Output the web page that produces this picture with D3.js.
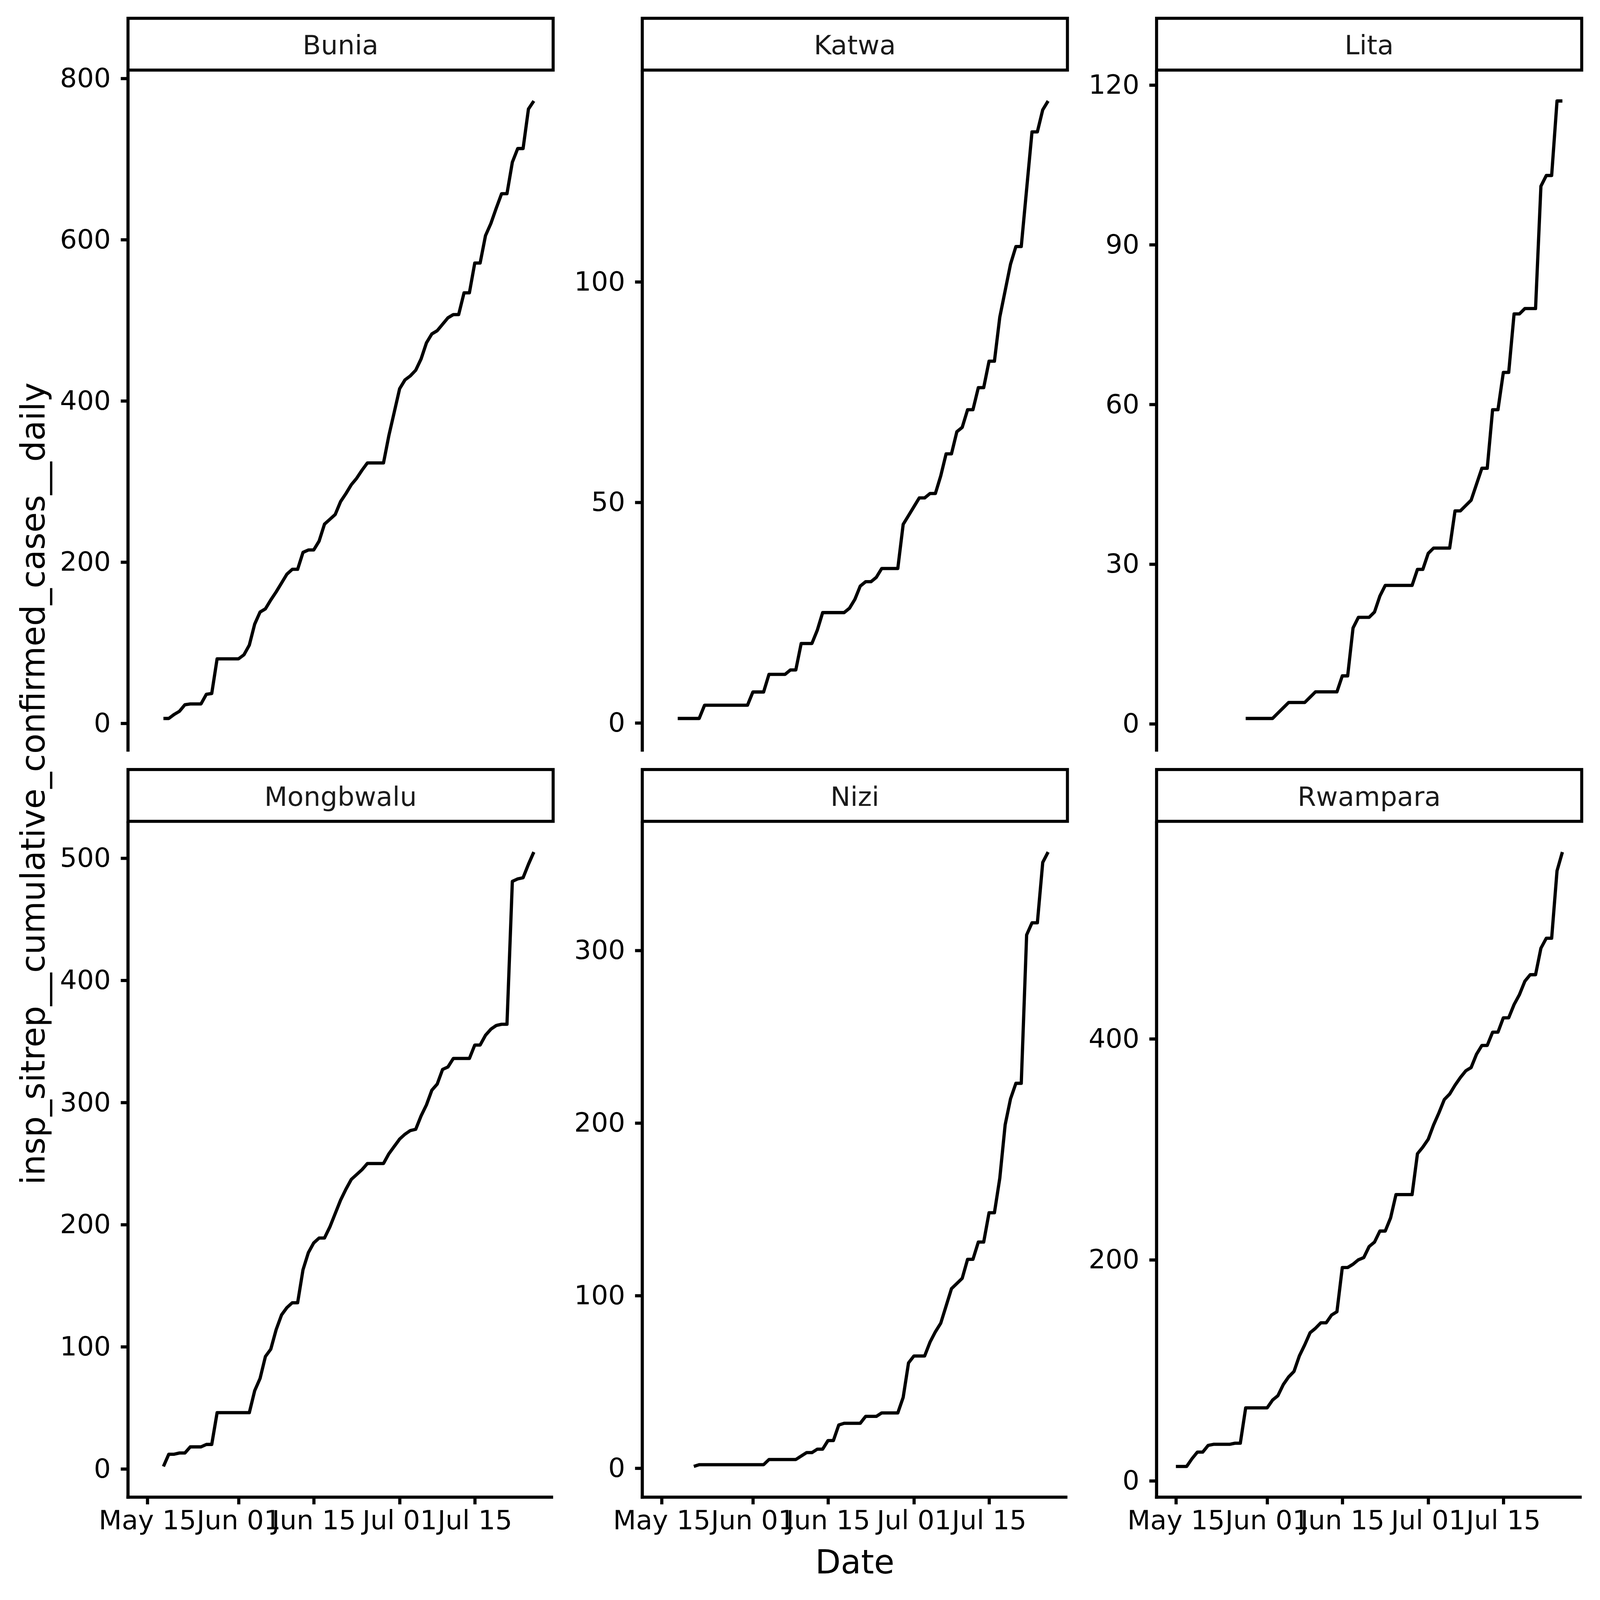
<!DOCTYPE html>
<html>
<head>
<meta charset="utf-8">
<script src="https://cdn.jsdelivr.net/npm/d3@7"></script>
<style>
  html, body { margin: 0; padding: 0; background: #ffffff; width: 100%; height: 100%; overflow: hidden; }
  svg { display: block; width: 100vw; height: 100vh; }
</style>
</head>
<body>
<script>
// ---------------- DATA ----------------
// Daily dates start on this day; each series has one value per day (null = no data)
const startDate = "2019-05-15";
const dayCount = 73;

const districts = ["Bunia", "Katwa", "Lita", "Mongbwalu", "Nizi", "Rwampara"];

const bunia = [
  null, null, null, 6, 6, 11, 15, 23, 24, 24,
  24, 36, 37, 80, 80, 80, 80, 80, 85, 97,
  123, 138, 142, 153, 163, 174, 185, 191, 191, 212,
  215, 215, 226, 247, 253, 259, 275, 285, 296, 304,
  314, 323, 323, 323, 323, 357, 386, 415, 426, 431,
  438, 452, 472, 483, 487, 495, 503, 507, 507, 534,
  534, 571, 571, 605, 620, 639, 657, 657, 696, 713,
  713, 762, 772
];
const katwa = [
  null, null, null, 1, 1, 1, 1, 1, 4, 4,
  4, 4, 4, 4, 4, 4, 4, 7, 7, 7,
  11, 11, 11, 11, 12, 12, 18, 18, 18, 21,
  25, 25, 25, 25, 25, 26, 28, 31, 32, 32,
  33, 35, 35, 35, 35, 45, 47, 49, 51, 51,
  52, 52, 56, 61, 61, 66, 67, 71, 71, 76,
  76, 82, 82, 92, 98, 104, 108, 108, 121, 134,
  134, 139, 141
];
const lita = [
  null, null, null, null, null, null, null, null, null, null,
  null, null, null, 1, 1, 1, 1, 1, 1, 2,
  3, 4, 4, 4, 4, 5, 6, 6, 6, 6,
  6, 9, 9, 18, 20, 20, 20, 21, 24, 26,
  26, 26, 26, 26, 26, 29, 29, 32, 33, 33,
  33, 33, 40, 40, 41, 42, 45, 48, 48, 59,
  59, 66, 66, 77, 77, 78, 78, 78, 101, 103,
  103, 117, 117
];
const mongbwalu = [
  null, null, null, 2, 12, 12, 13, 13, 18, 18,
  18, 20, 20, 46, 46, 46, 46, 46, 46, 46,
  64, 74, 92, 98, 114, 126, 132, 136, 136, 163,
  177, 185, 189, 189, 198, 209, 220, 229, 237, 241,
  245, 250, 250, 250, 250, 258, 264, 270, 274, 277,
  278, 289, 298, 310, 315, 327, 329, 336, 336, 336,
  336, 347, 347, 355, 360, 363, 364, 364, 481, 483,
  484, 495, 505
];
const nizi = [
  null, null, null, null, null, null, 1, 2, 2, 2,
  2, 2, 2, 2, 2, 2, 2, 2, 2, 2,
  5, 5, 5, 5, 5, 5, 7, 9, 9, 11,
  11, 16, 16, 25, 26, 26, 26, 26, 30, 30,
  30, 32, 32, 32, 32, 41, 61, 65, 65, 65,
  73, 79, 84, 94, 104, 107, 110, 121, 121, 131,
  131, 148, 148, 168, 199, 214, 223, 223, 309, 316,
  316, 351, 357
];
const rwampara = [
  13, 13, 13, 20, 26, 26, 32, 33, 33, 33,
  33, 34, 34, 66, 66, 66, 66, 66, 73, 77,
  87, 94, 99, 113, 123, 134, 138, 143, 143, 150,
  153, 193, 193, 196, 200, 202, 212, 216, 226, 226,
  238, 259, 259, 259, 259, 296, 302, 309, 322, 333,
  345, 350, 358, 365, 371, 374, 386, 394, 394, 406,
  406, 419, 419, 431, 440, 452, 458, 458, 482, 491,
  491, 552, 569
];

const seriesValues = [bunia, katwa, lita, mongbwalu, nizi, rwampara];

// y tick values per panel (as shown on the chart)
const yTicks = [
  [0, 200, 400, 600, 800],
  [0, 50, 100],
  [0, 30, 60, 90, 120],
  [0, 100, 200, 300, 400, 500],
  [0, 100, 200, 300],
  [0, 200, 400]
];
// x tick dates and labels
const xTickDates = ["2019-05-15", "2019-06-01", "2019-06-15", "2019-07-01", "2019-07-15"];
const xTickLabels = ["May 15", "Jun 01", "Jun 15", "Jul 01", "Jul 15"];

const xTitle = "Date";
const yTitle = "insp_sitrep__cumulative_confirmed_cases__daily";

// ---------------- LAYOUT ----------------
const W = 4200, H = 4200;
const colLeft = [336, 1686, 3036];
const panelW = 1116;
const stripTop = [48, 2020];
const stripH = 136;
const panelBottom = [1967, 3930];
const FONT = "'DejaVu Sans', 'Liberation Sans', sans-serif";
const tickFont = 70, titleFont = 87;
const lineW = 8.5, axisW = 8.3, stripW = 8, tickLen = 19;

const parse = d3.utcParse("%Y-%m-%d");
const day0 = parse(startDate);
const dates = d3.range(dayCount).map(i => d3.utcDay.offset(day0, i));

// shared x domain: data extent with 5% expansion (ggplot style)
const xExt = d3.extent(dates);
const xSpan = xExt[1] - xExt[0];
const xDomain = [new Date(+xExt[0] - 0.05 * xSpan), new Date(+xExt[1] + 0.05 * xSpan)];

const svg = d3.select("body").append("svg")
  .attr("viewBox", `0 0 ${W} ${H}`)
  .attr("preserveAspectRatio", "none")
  .style("font-family", FONT);

svg.append("rect").attr("width", W).attr("height", H).attr("fill", "#ffffff");

districts.forEach((name, i) => {
  const col = i % 3, row = Math.floor(i / 3);
  const left = colLeft[col], right = left + panelW;
  const sTop = stripTop[row], pTop = sTop + stripH, pBot = panelBottom[row];
  const vals = seriesValues[i];
  const pts = dates.map((d, k) => ({ date: d, v: vals[k] })).filter(p => p.v != null);

  const x = d3.scaleUtc().domain(xDomain).range([left, right]);
  const yExt = d3.extent(pts, p => p.v);
  const ySpan = yExt[1] - yExt[0];
  const y = d3.scaleLinear()
    .domain([yExt[0] - 0.05 * ySpan, yExt[1] + 0.05 * ySpan])
    .range([pBot, pTop]);

  const g = svg.append("g");

  // strip
  g.append("rect")
    .attr("x", left).attr("y", sTop)
    .attr("width", panelW).attr("height", stripH)
    .attr("fill", "#ffffff").attr("stroke", "#000000").attr("stroke-width", stripW);
  g.append("text")
    .attr("x", (left + right) / 2).attr("y", sTop + 95)
    .attr("text-anchor", "middle")
    .attr("font-size", tickFont).attr("fill", "#1a1a1a")
    .text(name);

  // line
  const line = d3.line()
    .x(p => x(p.date)).y(p => y(p.v));
  g.append("path")
    .datum(pts)
    .attr("d", line)
    .attr("fill", "none").attr("stroke", "#000000")
    .attr("stroke-width", lineW).attr("stroke-linejoin", "round").attr("stroke-linecap", "butt");

  // y axis
  const yAxis = d3.axisLeft(y).tickValues(yTicks[i]).tickSize(tickLen).tickPadding(26);
  const ya = g.append("g").attr("transform", `translate(${left},0)`).call(yAxis);
  ya.select(".domain").remove();
  ya.selectAll(".tick line").attr("stroke", "#000").attr("stroke-width", axisW);
  ya.selectAll(".tick text").attr("font-size", tickFont).attr("font-family", FONT).attr("fill", "#000");
  g.append("line")
    .attr("x1", left).attr("x2", left)
    .attr("y1", pTop).attr("y2", pBot + (row === 1 ? axisW / 2 : 6))
    .attr("stroke", "#000").attr("stroke-width", axisW);

  // x axis only on the bottom row
  if (row === 1) {
    const xAxis = d3.axisBottom(x)
      .tickValues(xTickDates.map(parse))
      .tickFormat((d, k) => xTickLabels[k])
      .tickSize(tickLen).tickPadding(16);
    const xa = g.append("g").attr("transform", `translate(0,${pBot})`).call(xAxis);
    xa.select(".domain").remove();
    xa.selectAll(".tick line").attr("stroke", "#000").attr("stroke-width", axisW);
    xa.selectAll(".tick text").attr("font-size", tickFont).attr("font-family", FONT).attr("fill", "#000");
    g.append("line")
      .attr("x1", left - axisW / 2).attr("x2", right)
      .attr("y1", pBot).attr("y2", pBot)
      .attr("stroke", "#000").attr("stroke-width", axisW);
  }
});

// axis titles
svg.append("text")
  .attr("x", (colLeft[0] + colLeft[2] + panelW) / 2).attr("y", 4130)
  .attr("text-anchor", "middle").attr("font-size", titleFont).attr("fill", "#000")
  .text(xTitle);
svg.append("text")
  .attr("transform", `translate(117,${(stripTop[0] + stripH + panelBottom[1]) / 2}) rotate(-90)`)
  .attr("text-anchor", "middle").attr("font-size", titleFont).attr("fill", "#000")
  .text(yTitle);
</script>
</body>
</html>
